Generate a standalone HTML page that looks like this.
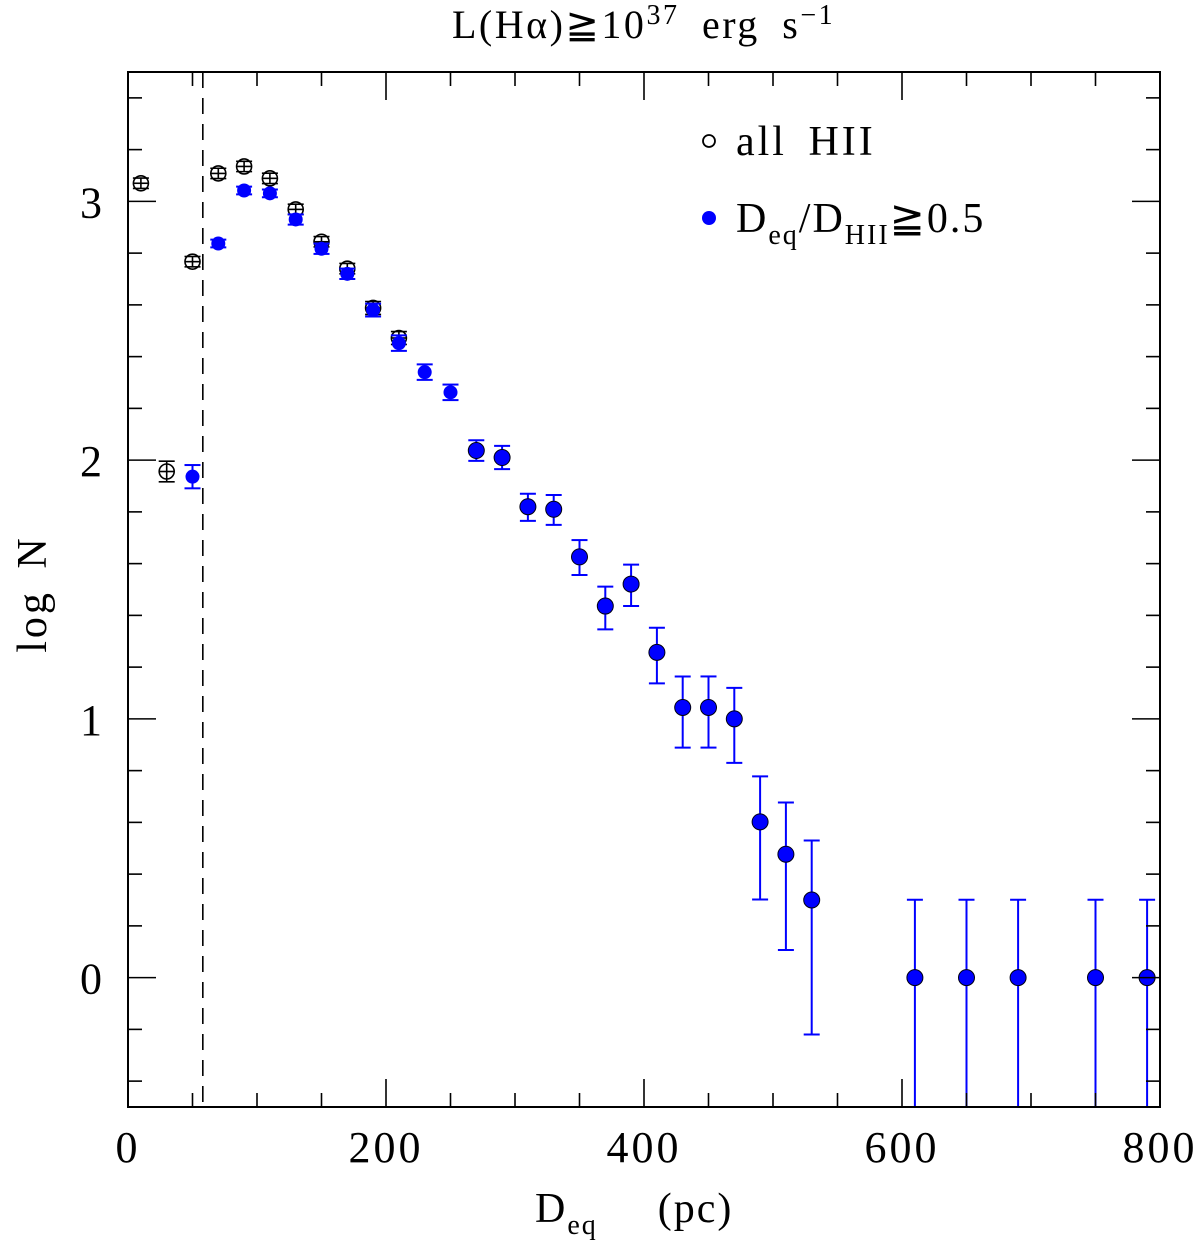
<!DOCTYPE html>
<html><head><meta charset="utf-8"><style>
html,body{margin:0;padding:0;background:#fff;}
svg text{font-family:"Liberation Serif","DejaVu Serif",serif;fill:#000;}
</style></head><body>
<svg id="chart" width="1200" height="1248" viewBox="0 0 1200 1248" xmlns="http://www.w3.org/2000/svg">
<g id="marks"></g>
<g id="axes"></g>
<text x="452" y="38" font-size="40" letter-spacing="2.5" word-spacing="10">L(Hα)≧10<tspan font-size="28" dy="-14">37</tspan><tspan dy="14"> erg s</tspan><tspan font-size="28" dy="-14">−1</tspan></text>
<text x="535" y="1222" font-size="42" letter-spacing="2">D<tspan font-size="28" dy="12">eq</tspan><tspan dy="-12" dx="60">(pc)</tspan></text>
<text transform="translate(46,594) rotate(-90)" font-size="42" letter-spacing="3" word-spacing="8" text-anchor="middle">log N</text>
<g>
<circle cx="709" cy="141" r="6" fill="none" stroke="#000" stroke-width="1.8"/>
<text x="736" y="155" font-size="42" letter-spacing="3" word-spacing="8">all HII</text>
<circle cx="709" cy="218" r="7" fill="#0000ff"/>
<text x="736" y="232" font-size="42" letter-spacing="2">D<tspan font-size="28" dy="12">eq</tspan><tspan dy="-12">/D</tspan><tspan font-size="28" dy="12">HII</tspan><tspan dy="-12">≧0.5</tspan></text>
</g>
</svg>
<script>
const allX = [10,30,50,70,90,110,130,150,170,190,210];
const allY = [3.07,1.956,2.767,3.108,3.135,3.089,2.969,2.844,2.74,2.588,2.472];
const allErr = [0.02,0.04,0.02,0.02,0.02,0.02,0.02,0.02,0.02,0.025,0.025];
const selX = [50,70,90,110,130,150,170,190,210,230,250,270,290,310,330,350,370,390,410,430,450,470,490,510,530,610,650,690,750,790];
const selY = [1.936,2.837,3.042,3.031,2.93,2.817,2.72,2.58,2.452,2.34,2.262,2.037,2.01,1.82,1.81,1.626,1.436,1.521,1.257,1.044,1.044,1.0,0.602,0.477,0.30,0,0,0,0,0];
const selUp = [0.045,0.015,0.015,0.015,0.02,0.02,0.02,0.025,0.03,0.03,0.03,0.04,0.045,0.05,0.055,0.065,0.075,0.075,0.095,0.12,0.12,0.12,0.176,0.2,0.23,0.301,0.301,0.301,0.301,0.301];
const selDn = [0.045,0.015,0.015,0.015,0.02,0.02,0.02,0.025,0.03,0.03,0.03,0.04,0.045,0.055,0.06,0.07,0.09,0.085,0.12,0.155,0.155,0.17,0.30,0.37,0.52,1.0,1.0,1.0,1.0,1.0];
const xTicksMajor = [0,200,400,600,800];
const yTicksMajor = [0,1,2,3];
const cutoffX = 58;

const L=128,R=1160,T=72,B=1107;
const X0=0,X1=800,Y0=-0.5,Y1=3.5;
const sx=v=>L+(v-X0)/(X1-X0)*(R-L);
const sy=v=>B-(v-Y0)/(Y1-Y0)*(B-T);
const NS='http://www.w3.org/2000/svg';
const marks=document.getElementById('marks');
const axes=document.getElementById('axes');
function mk(tag,attrs,parent){const e=document.createElementNS(NS,tag);for(const k in attrs)e.setAttribute(k,attrs[k]);parent.appendChild(e);return e;}
const clipB=v=>Math.max(Math.min(v,B),T);

const dl=mk('line',{x1:sx(cutoffX),x2:sx(cutoffX),y1:T,y2:B,stroke:'#000','stroke-width':1.6,'stroke-dasharray':'16,10'},marks);



allX.forEach((x,i)=>{
  const g=mk('g',{},marks);
  
  
  const cx=sx(x),cy=sy(allY[i]),yt=sy(allY[i]+allErr[i]),yb=sy(allY[i]-allErr[i]);
  mk('circle',{cx:cx,cy:cy,r:7.5,fill:'#fff',stroke:'#000','stroke-width':1.6},g);
  mk('line',{x1:cx,x2:cx,y1:yt,y2:yb,stroke:'#000','stroke-width':1.6},g);
  mk('line',{x1:cx-8,x2:cx+8,y1:yt,y2:yt,stroke:'#000','stroke-width':1.6},g);
  mk('line',{x1:cx-8,x2:cx+8,y1:yb,y2:yb,stroke:'#000','stroke-width':1.6},g);
  mk('line',{x1:cx-7,x2:cx+7,y1:cy,y2:cy,stroke:'#000','stroke-width':1.6},g);
});

selX.forEach((x,i)=>{
  const g=mk('g',{},marks);
  
  
  const cx=sx(x),cy=sy(selY[i]);
  const yt=sy(selY[i]+selUp[i]),ybRaw=sy(selY[i]-selDn[i]),yb=clipB(ybRaw);
  mk('line',{x1:cx,x2:cx,y1:yt,y2:yb,stroke:'#0000ff','stroke-width':2},g);
  mk('line',{x1:cx-8,x2:cx+8,y1:yt,y2:yt,stroke:'#0000ff','stroke-width':2},g);
  if(ybRaw<B) mk('line',{x1:cx-8,x2:cx+8,y1:yb,y2:yb,stroke:'#0000ff','stroke-width':2},g);
  const r = x<=250?7:8;
  mk('circle',{cx:cx,cy:cy,r:r,fill:'#0000ff',stroke:x<=250?'none':'#001','stroke-width':1},g);
});

const fr=mk('rect',{x:L,y:T,width:R-L,height:B-T,fill:'none',stroke:'#000','stroke-width':2},axes);


for(let v=0;v<=800;v+=50){
  const major=xTicksMajor.includes(v);const len=major?28:14;const px=sx(v);
  mk('line',{x1:px,x2:px,y1:B,y2:B-len,stroke:'#000','stroke-width':1.6},axes);
  mk('line',{x1:px,x2:px,y1:T,y2:T+len,stroke:'#000','stroke-width':1.6},axes);
}
xTicksMajor.forEach(v=>{
  const t=mk('text',{x:sx(v),y:1162,'font-size':44,'letter-spacing':3,'text-anchor':'middle'},axes);
  t.textContent=String(v);
  
  
});
for(let k=-2;k<=17;k++){
  const v=k*0.2;const major=Math.abs(v-Math.round(v))<1e-9;const len=major?28:14;const py=sy(v);
  if(py<T||py>B)continue;
  mk('line',{x1:L,x2:L+len,y1:py,y2:py,stroke:'#000','stroke-width':1.6},axes);
  mk('line',{x1:R,x2:R-len,y1:py,y2:py,stroke:'#000','stroke-width':1.6},axes);
}
yTicksMajor.forEach(v=>{
  const t=mk('text',{x:91,y:sy(v)+16,'font-size':44,'text-anchor':'middle'},axes);
  t.textContent=String(v);
  
  
});
</script>
</body></html>
